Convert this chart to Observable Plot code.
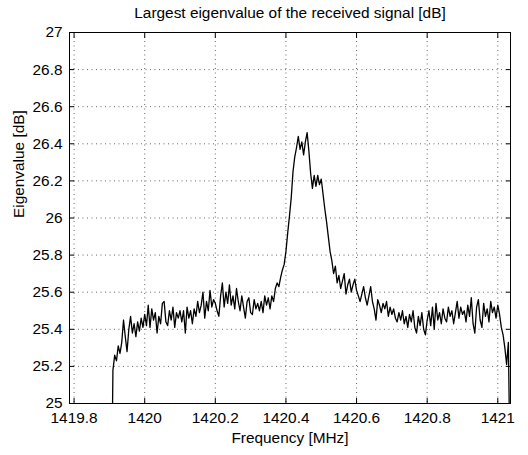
<!DOCTYPE html>
<html><head><meta charset="utf-8">
<script src="https://cdn.jsdelivr.net/npm/d3@7"></script>
<script src="https://cdn.jsdelivr.net/npm/@observablehq/plot@0.6"></script>
<style>
html,body{margin:0;padding:0;background:#fff;}
#chart svg{display:block;}
</style></head><body><div id="chart"></div>
<script>
const titleText = "Largest eigenvalue of the received signal [dB]";
const xLabel = "Frequency [MHz]";
const yLabel = "Eigenvalue [dB]";
const xTicks = [1419.8, 1420, 1420.2, 1420.4, 1420.6, 1420.8, 1421];
const yTicks = [25, 25.2, 25.4, 25.6, 25.8, 26, 26.2, 26.4, 26.6, 26.8, 27];
const xDomain = [1419.787, 1421.036];
const yDomain = [25, 27];
const freqStart = 1419.905;
const freqStep = 0.005;
const eigenvalues = [
  24.3, 25.18, 25.26, 25.23, 25.31, 25.27, 25.33, 25.45, 25.36, 25.28,
  25.40, 25.47, 25.38, 25.43, 25.36, 25.44, 25.39, 25.46, 25.41, 25.48,
  25.42, 25.53, 25.41, 25.51, 25.45, 25.49, 25.38, 25.47, 25.43, 25.54,
  25.55, 25.44, 25.42, 25.50, 25.45, 25.52, 25.41, 25.49, 25.46, 25.50,
  25.44, 25.50, 25.38, 25.52, 25.46, 25.50, 25.43, 25.51, 25.47, 25.55,
  25.49, 25.53, 25.60, 25.46, 25.55, 25.50, 25.61, 25.52, 25.56, 25.54,
  25.50, 25.47, 25.58, 25.65, 25.52, 25.60, 25.54, 25.64, 25.53, 25.58,
  25.51, 25.62, 25.55, 25.50, 25.58, 25.52, 25.46, 25.55, 25.57, 25.49,
  25.48, 25.56, 25.51, 25.54, 25.50, 25.55, 25.49, 25.58, 25.53, 25.57,
  25.51, 25.58, 25.55, 25.62, 25.65, 25.63, 25.68, 25.72, 25.75, 25.82,
  25.92, 26.01, 26.11, 26.25, 26.33, 26.38, 26.44, 26.37, 26.41, 26.34,
  26.41, 26.46, 26.36, 26.24, 26.16, 26.23, 26.17, 26.23, 26.18, 26.21,
  26.13, 26.05, 25.98, 25.90, 25.82, 25.77, 25.70, 25.74, 25.65, 25.69,
  25.62, 25.66, 25.70, 25.59, 25.64, 25.67, 25.60, 25.64, 25.67, 25.61,
  25.58, 25.55, 25.59, 25.63, 25.57, 25.53, 25.58, 25.63, 25.55, 25.51,
  25.45, 25.56, 25.53, 25.49, 25.54, 25.51, 25.55, 25.47, 25.52, 25.48,
  25.51, 25.46, 25.44, 25.49, 25.45, 25.50, 25.43, 25.47, 25.41, 25.48,
  25.44, 25.50, 25.41, 25.38, 25.47, 25.42, 25.49, 25.40, 25.37, 25.45,
  25.50, 25.42, 25.52, 25.40, 25.54, 25.45, 25.49, 25.43, 25.51, 25.46,
  25.44, 25.52, 25.47, 25.50, 25.43, 25.49, 25.55, 25.46, 25.52, 25.48,
  25.50, 25.44, 25.53, 25.47, 25.57, 25.43, 25.38, 25.52, 25.56, 25.45,
  25.41, 25.54, 25.47, 25.51, 25.44, 25.55, 25.49, 25.52, 25.46, 25.53,
  25.48, 25.41, 25.37, 25.30, 25.21, 25.33, 24.6
];
const data = eigenvalues.map((v, i) => ({f: freqStart + i * freqStep, v}));

const font = "'Liberation Sans', Arial, Helvetica, sans-serif";
const fmt = d => String(d);
const gridStyle = {stroke: "#000", strokeOpacity: 0.6, strokeDasharray: "1,3.5"};

const chart = Plot.plot({
  width: 528, height: 455,
  marginLeft: 69, marginRight: 18, marginTop: 32, marginBottom: 52,
  style: {fontFamily: font, fontSize: "15.4px", color: "#000", background: "#fff", overflow: "visible"},
  x: {domain: xDomain, label: null},
  y: {domain: yDomain, label: null},
  marks: [
    Plot.gridX(xTicks, gridStyle),
    Plot.gridY(yTicks, gridStyle),
    Plot.line(data, {x: "f", y: "v", stroke: "#000", strokeWidth: 1.3, clip: true}),
    Plot.frame({stroke: "#000", strokeWidth: 1}),
    Plot.axisX(xTicks, {anchor: "bottom", tickSize: 0, tickPadding: 9, tickFormat: fmt, label: null}),
    Plot.axisX(xTicks, {anchor: "bottom", tickSize: -5, tickFormat: () => "", label: null}),
    Plot.axisX(xTicks, {anchor: "top", tickSize: -5, tickFormat: () => "", label: null}),
    Plot.axisY(yTicks, {anchor: "left", tickSize: 0, tickPadding: 7, tickFormat: fmt, label: null}),
    Plot.axisY(yTicks, {anchor: "left", tickSize: -5, tickFormat: () => "", label: null}),
    Plot.axisY(yTicks, {anchor: "right", tickSize: -5, tickFormat: () => "", label: null}),
    Plot.text([titleText], {frameAnchor: "top", dy: -14.5, lineAnchor: "bottom", fill: "#000"}),
    Plot.text([xLabel], {frameAnchor: "bottom", dy: 39, lineAnchor: "bottom", fill: "#000"}),
    Plot.text([yLabel], {frameAnchor: "left", dx: -46, rotate: -90, lineAnchor: "bottom", fill: "#000"})
  ]
});
document.getElementById("chart").appendChild(chart);
</script></body></html>
